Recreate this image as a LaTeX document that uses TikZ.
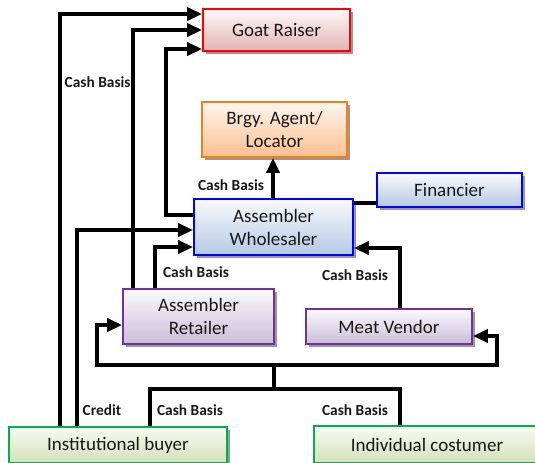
\documentclass[tikz,border=0pt]{standalone}
\usepackage{fontspec}
\setmainfont{Carlito}
\usetikzlibrary{arrows.meta,shadows}

\definecolor{redline}{HTML}{FF0000}
\definecolor{redfill}{HTML}{E3B3B2}
\definecolor{orangeline}{HTML}{F07F1E}
\definecolor{orangefill}{HTML}{FBC08F}
\definecolor{blueline}{HTML}{0000FF}
\definecolor{bluefill}{HTML}{B4C9E3}
\definecolor{purpleline}{HTML}{7030A0}
\definecolor{purplefill}{HTML}{C9BDD8}
\definecolor{greenline}{HTML}{00B050}
\definecolor{greenfill}{HTML}{D3E1B8}

\tikzset{
  actor/.style={draw, line width=0.9pt, inner sep=1pt, align=center,
    text=black!90, font=\fontsize{9.5}{11.5}\selectfont,
    drop shadow={shadow xshift=1.4pt, shadow yshift=-1.4pt, fill=black!40, opacity=1}},
  raiser/.style={actor, draw=redline, top color=white!92!redfill, bottom color=redfill},
  agent/.style={actor, draw=orangeline, top color=white!85!orangefill, bottom color=orangefill},
  bluebox/.style={actor, draw=blueline, top color=white!90!bluefill, bottom color=bluefill},
  purplebox/.style={actor, draw=purpleline, top color=white!92!purplefill, bottom color=purplefill},
  greenbox/.style={actor, draw=greenline, top color=white!85!greenfill, bottom color=greenfill},
  line/.style={line width=2pt},
  flow/.style={line, -{Triangle[length=7.5pt,width=6.5pt]}},
  terms/.style={font=\bfseries\fontsize{7.7}{9}\selectfont, text=black!90, inner sep=0pt}
}

\begin{document}
\begin{tikzpicture}[x=0.5pt, y=-0.5pt]
    \useasboundingbox (0,0) rectangle (535,462);

    % actors
    \node[raiser, minimum width=73.5pt, minimum height=21pt] (goat) at (276.5,30) {Goat Raiser};
    \node[agent, minimum width=72.5pt, minimum height=27.5pt] (brgy) at (274.5,129.5) {Brgy. Agent/\\Locator};
    \node[bluebox, minimum width=72.5pt, minimum height=17pt] (fin) at (449.5,190) {Financier};
    \node[bluebox, minimum width=79.5pt, minimum height=28pt] (whl) at (273.5,227) {Assembler\\Wholesaler};
    \node[purplebox, minimum width=75.5pt, minimum height=27.5pt] (ret) at (198.5,316.5) {Assembler\\Retailer};
    \node[purplebox, minimum width=83pt, minimum height=17.5pt] (mv) at (389,326.5) {Meat Vendor};
    \node[greenbox, minimum width=109pt, minimum height=18pt] (inst) at (118,445) {Institutional buyer};
    \node[greenbox, minimum width=113pt, minimum height=18.5pt] (ind) at (427,444.5) {Individual costumer};

    % to goat raiser
    \draw[flow] (inst.north -| 60,0) |- (goat.west |- 0,14);
    \draw[flow] (ret.north -| 133,0) |- (goat.west |- 0,30);
    \draw[flow] (whl.west |- 0,215) -| (166,49) -- (goat.west |- 0,49);
    \node[terms, anchor=east] (t1) at (131,82) {Cash Basis};

    % to wholesaler
    \draw[flow] (inst.north -| 77,0) |- (whl.west |- 0,230);
    \draw[flow] (ret.north -| 155,0) |- (whl.west |- 0,247);
    \draw[flow] (mv.north -| 400,0) |- (whl.east |- 0,248);
    \draw[flow] (whl.north -| 273,0) -- (brgy.south -| 273,0);
    \draw[line] (whl.east |- 0,203) -- (fin.west |- 0,203);
    \node[terms] (t2) at (102,410) {Credit};
    \node[terms] (t3) at (196,272) {Cash Basis};
    \node[terms] (t4) at (355,275) {Cash Basis};
    \node[terms] (t5) at (231,185) {Cash Basis};

    % consumers to retailer and vendor
    \coordinate (jn) at (274,389);
    \coordinate (sp) at (274,365);
    \draw[line] (inst.north -| 150,0) |- (jn) -| (ind.north -| 400,0);
    \draw[line] (jn) -- (sp);
    \draw[flow] (sp) -| (97,325) -- (ret.west |- 0,325);
    \draw[flow] (sp) -| (497,336) -- (mv.east |- 0,336);
    \node[terms] (t6) at (190,410) {Cash Basis};
    \node[terms] (t7) at (355,410) {Cash Basis};
\end{tikzpicture}
\end{document}
